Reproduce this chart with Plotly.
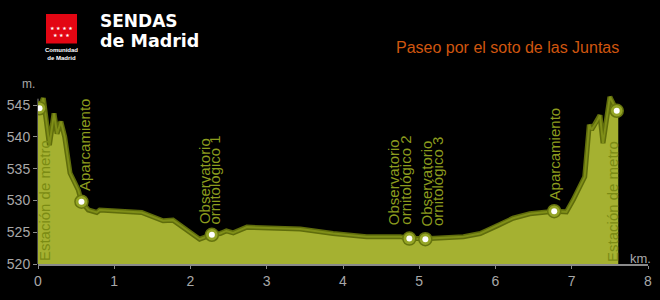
import plotly.graph_objects as go

# ---- data ----
km = [0.00, 0.02, 0.07, 0.15, 0.21, 0.25, 0.30, 0.35, 0.42, 0.53, 0.57, 0.66, 0.77, 0.81,
      1.08, 1.36, 1.64, 1.77, 2.12, 2.28, 2.39, 2.47, 2.56, 2.74, 3.44, 3.87, 4.31, 4.75,
      4.87, 5.08, 5.14, 5.58, 5.80, 6.02, 6.23, 6.45, 6.77, 6.93, 7.02, 7.17, 7.23, 7.26,
      7.33, 7.37, 7.41, 7.50, 7.59, 7.61]
elev = [544.0, 544.5, 546.1, 538.7, 543.7, 540.5, 542.4, 540.0, 534.3, 531.6, 529.8, 528.5, 528.1, 528.5,
        528.3, 528.1, 526.8, 526.9, 523.9, 524.6, 524.8, 525.2, 524.9, 525.8, 525.5, 524.8, 524.3, 524.3,
        524.0, 523.9, 524.0, 524.3, 524.8, 526.0, 527.2, 527.9, 528.3, 528.2, 530.1, 533.7, 541.9, 541.1,
        542.4, 543.4, 539.0, 546.3, 544.1, 544.0]

wp_names = [["Estación de metro"], ["Aparcamiento"], ["Observatorio", "ornitológico 1"],
            ["Observatorio", "ornitológico 2"], ["Observatorio", "ornitológico 3"],
            ["Aparcamiento"], ["Estación de metro"]]
wp_km = [0.02, 0.57, 2.28, 4.87, 5.08, 6.77, 7.59]
wp_elev = [544.5, 529.8, 524.6, 524.0, 523.9, 528.3, 544.1]

x_ticks = [0, 1, 2, 3, 4, 5, 6, 7, 8]
y_ticks = [520, 525, 530, 535, 540, 545]

title_text = "Paseo por el soto de las Juntas"

# ---- layout helpers (pixel -> paper) ----
W, H = 660, 300
ML, MR, MT, MB = 38, 12, 86, 36
PW, PH = W - ML - MR, H - MT - MB
def px(x):
    return (x - ML) / PW
def py(y):
    return (H - MB - y) / PH

FILL = "#a5b131"
TXT = "#8c9c1e"
TXT_ON_FILL = "#7b8b14"
GRAY = "#a8a8a8"

fig = go.Figure()
fig.add_trace(go.Scatter(x=km, y=elev, mode="lines", fill="tozeroy",
                         fillcolor=FILL, line=dict(width=0, color=FILL),
                         hoverinfo="skip", showlegend=False))
fig.add_trace(go.Scatter(x=km[1:-1], y=elev[1:-1], mode="lines",
                         line=dict(width=5, color="#5f6c0c"),
                         hoverinfo="skip", showlegend=False))
fig.add_trace(go.Scatter(x=km[1:-1], y=elev[1:-1], mode="lines",
                         line=dict(width=2, color="#7f8e18"),
                         hoverinfo="skip", showlegend=False))
fig.add_trace(go.Scatter(x=wp_km, y=wp_elev, mode="markers",
                         marker=dict(size=13, color="#95a526",
                                     line=dict(width=1.5, color="#66740e")),
                         hoverinfo="skip", showlegend=False))
fig.add_trace(go.Scatter(x=wp_km, y=wp_elev, mode="markers",
                         marker=dict(size=6, color="white"),
                         hoverinfo="skip", showlegend=False))

ann = []
# waypoint labels (vertical)
shifts = [[5], [3], [-8, 3], [-15, -4], [1, 12], [0], [-5]]
bases = [520.3, 531.3, 526.1, 526.0, 525.8, 529.8, 520.2]
on_fill = [True, False, False, False, False, False, True]
for names, k, sh, b, of in zip(wp_names, wp_km, shifts, bases, on_fill):
    for n, s in zip(names, sh):
        ann.append(dict(x=k, y=b, xref="x", yref="y", text=n, textangle=-90,
                        xanchor="center", yanchor="bottom", xshift=s,
                        showarrow=False, borderpad=0,
                        font=dict(family="Liberation Sans", size=15,
                                  color=TXT_ON_FILL if of else TXT)))

# axis unit labels
ann.append(dict(x=px(28), y=py(84), xref="paper", yref="paper", text="m.",
                xanchor="center", yanchor="middle",
                showarrow=False, font=dict(family="Liberation Sans", size=12, color=GRAY)))
ann.append(dict(x=px(640), y=py(258), xref="paper", yref="paper", text="km.",
                xanchor="center", yanchor="middle",
                showarrow=False, font=dict(family="Liberation Sans", size=13, color=GRAY)))

# title
ann.append(dict(x=px(394), y=py(48), xref="paper", yref="paper", text=title_text,
                xanchor="left", yanchor="middle", showarrow=False,
                font=dict(family="Liberation Sans", size=16, color="#d0560f")))

# logo text
ann.append(dict(x=px(99), y=py(20.5), xref="paper", yref="paper", text="<b>SENDAS</b>",
                xanchor="left", yanchor="middle", showarrow=False, borderpad=0,
                font=dict(family="DejaVu Sans", size=17, color="white")))
ann.append(dict(x=px(99), y=py(41), xref="paper", yref="paper", text="<b>de Madrid</b>",
                xanchor="left", yanchor="middle", showarrow=False, borderpad=0,
                font=dict(family="DejaVu Sans", size=17.5, color="white")))
ann.append(dict(x=px(61.5), y=py(54), xref="paper", yref="paper",
                text="<b>Comunidad</b><br><b>de Madrid</b>",
                xanchor="center", yanchor="middle", showarrow=False,
                font=dict(family="Liberation Sans", size=6, color="white")))
ann.append(dict(x=px(61.5), y=py(31), xref="paper", yref="paper",
                text="★ ★ ★ ★<br>★ ★ ★",
                xanchor="center", yanchor="middle", showarrow=False,
                font=dict(family="DejaVu Sans", size=5, color="white")))

shapes = [
    dict(type="rect", xref="paper", yref="paper", x0=px(46), x1=px(77), y0=py(43.5), y1=py(14),
         fillcolor="#e30613", line=dict(width=0), layer="below"),
    dict(type="line", xref="paper", yref="y", x0=0, x1=0, y0=520, y1=546,
         line=dict(color="#8a8a8a", width=1), layer="below"),
]

fig.update_layout(
    width=W, height=H,
    margin=dict(l=ML, r=MR, t=MT, b=MB, autoexpand=False),
    paper_bgcolor="black", plot_bgcolor="black",
    showlegend=False,
    annotations=ann, shapes=shapes,
    xaxis=dict(range=[0, 8], tickvals=x_ticks, ticktext=[str(v) for v in x_ticks],
               automargin=False,
               showgrid=False, zeroline=False, showline=True, linecolor="#8a8a8a", linewidth=2,
               ticks="outside", ticklen=3, tickcolor="#8a8a8a",
               tickfont=dict(family="Liberation Sans", size=14, color=GRAY)),
    yaxis=dict(range=[520, 548], tickvals=y_ticks, ticktext=[str(v) for v in y_ticks],
               automargin=False,
               showgrid=False, zeroline=False, showline=False,
               ticks="outside", ticklen=4, tickcolor="#8a8a8a",
               tickfont=dict(family="Liberation Sans", size=14, color=GRAY)),
)

fig.write_html("out.html")
